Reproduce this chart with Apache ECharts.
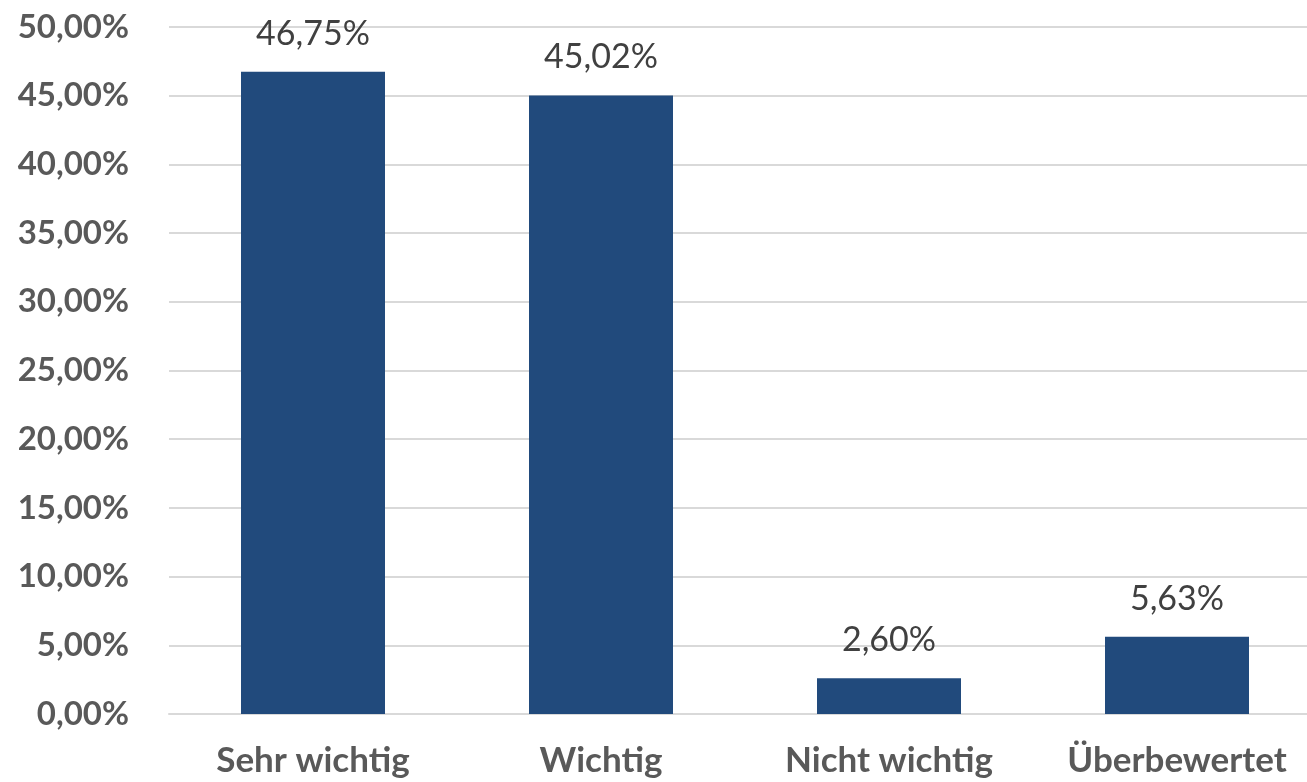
<!DOCTYPE html>
<html>
<head>
<meta charset="utf-8">
<script src="https://cdn.jsdelivr.net/npm/echarts@6/dist/echarts.min.js"></script>
<style>
  html, body { margin: 0; padding: 0; background: #ffffff; }
  #chart { width: 1307px; height: 782px; }
</style>
</head>
<body>
<div id="chart"></div>
<script>
// Antwortkategorien und Anteile in Prozent
const categories = ['Sehr wichtig', 'Wichtig', 'Nicht wichtig', 'Überbewertet'];
const shares = [46.75, 45.02, 2.60, 5.63];

// Achsenbereich in Prozent
const axisMin = 0;
const axisMax = 50;
const axisStep = 5;

const pct = v => v.toFixed(2).replace('.', ',') + '%';

const chart = echarts.init(document.getElementById('chart'), null, { renderer: 'canvas' });
chart.setOption({
  animation: false,
  backgroundColor: '#ffffff',
  // die Zeichenfläche reicht etwas über den rechten Rand hinaus
  grid: {
    left: 169, width: 1152, top: 27, bottom: 68,
    containLabel: false,
    outerBoundsMode: 'none'
  },
  xAxis: {
    type: 'category',
    data: categories,
    axisLine: { show: true, lineStyle: { color: '#d9d9d9', width: 2 } },
    axisTick: { show: false },
    axisLabel: {
      interval: 0,
      hideOverlap: false,
      margin: 29,
      color: '#595959',
      fontFamily: 'Lato',
      fontWeight: 'bold',
      fontSize: 35
    }
  },
  yAxis: {
    type: 'value',
    min: axisMin,
    max: axisMax,
    interval: axisStep,
    axisLine: { show: false },
    axisTick: { show: false },
    splitLine: { show: true, lineStyle: { color: '#d9d9d9', width: 2 } },
    axisLabel: {
      margin: 40,
      color: '#595959',
      fontFamily: 'Lato',
      fontWeight: 'bold',
      fontSize: 33,
      formatter: pct
    }
  },
  series: [{
    type: 'bar',
    data: shares,
    barWidth: '50%',
    itemStyle: { color: '#214a7c' },
    label: {
      show: true,
      position: 'top',
      distance: 21,
      color: '#404040',
      fontFamily: 'Lato',
      fontSize: 34,
      formatter: p => pct(p.value)
    }
  }]
});
</script>
</body>
</html>
